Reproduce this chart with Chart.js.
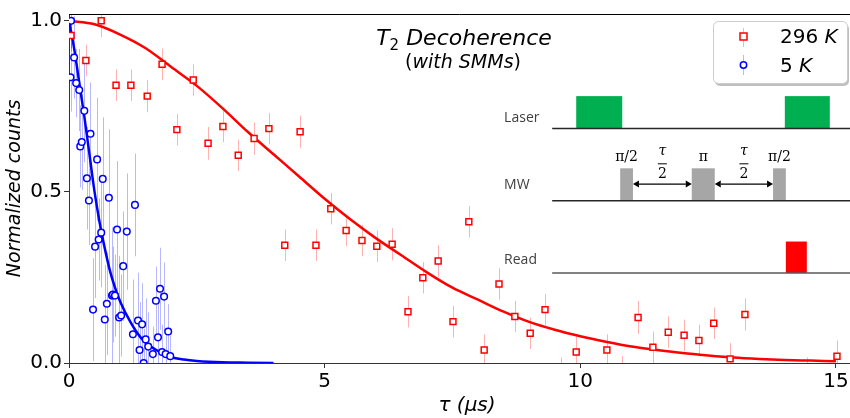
<!DOCTYPE html>
<html>
<head>
<meta charset="utf-8">
<script src="https://cdn.jsdelivr.net/npm/chart.js@4.4.1/dist/chart.umd.min.js"></script>
<style>
  html, body { margin: 0; padding: 0; background: #fff; }
  canvas { display: block; }
</style>
</head>
<body>
<canvas id="t2Chart" width="850" height="418"></canvas>
<script>
// tick labels
const xTickValues = [0, 5, 10, 15];
const yTickValues = [0, 0.5, 1.0];

// 296 K measurements (tau in us, normalized counts, error)
const hotTau = [0.04, 0.33, 0.63, 0.92, 1.21, 1.53, 1.82, 2.11, 2.43, 2.72, 3.01, 3.31, 3.62, 3.91, 4.22, 4.52,
  4.83, 5.12, 5.42, 5.73, 6.02, 6.32, 6.63, 6.92, 7.22, 7.51, 7.82, 8.12, 8.41, 8.72, 9.02, 9.31, 9.62,
  9.92, 10.52, 10.82, 11.13, 11.42, 11.72, 12.03, 12.32, 12.61, 12.93, 13.22, 14.43, 15.02];
const hotCounts = [0.957, 0.884, 1.0, 0.812, 0.812, 0.78, 0.873, 0.682, 0.827, 0.642, 0.691, 0.607, 0.656, 0.685, 0.344, 0.676,
  0.344, 0.451, 0.387, 0.358, 0.341, 0.347, 0.150, 0.249, 0.298, 0.121, 0.413, 0.038, 0.231, 0.136, 0.087, 0.156, -0.03,
  0.032, 0.038, -0.025, 0.133, 0.046, 0.09, 0.081, 0.066, 0.116, 0.012, 0.142, -0.03, 0.02];
const hotErr = [0.046, 0.046, 0.048, 0.046, 0.046, 0.047, 0.046, 0.046, 0.046, 0.048, 0.046, 0.046, 0.047, 0.046, 0.046, 0.047,
  0.046, 0.046, 0.046, 0.046, 0.046, 0.047, 0.046, 0.046, 0.046, 0.046, 0.046, 0.046, 0.046, 0.046, 0.046, 0.046, 0.046,
  0.046, 0.046, 0.046, 0.048, 0.046, 0.046, 0.046, 0.046, 0.046, 0.046, 0.047, 0.046, 0.046];

// 5 K measurements
const coldTau = [0.04, 0.03, 0.1, 0.14, 0.2, 0.3, 0.42, 0.22, 0.25, 0.55, 0.35, 0.66, 0.39, 0.78, 1.29, 0.63, 0.94, 1.13,
  0.58, 0.51, 1.06, 0.84, 0.86, 0.9, 0.74, 0.47, 0.7, 0.98, 1.02, 1.35, 1.43, 1.25, 1.5, 1.55, 1.38, 1.46, 1.64, 1.74,
  1.82, 1.89, 1.98, 1.7, 1.78, 1.86, 1.94];
const coldCounts = [1.0, 0.835, 0.893, 0.818, 0.798, 0.737, 0.67, 0.633, 0.646, 0.595, 0.54, 0.538, 0.475, 0.483, 0.462, 0.381, 0.39, 0.384,
  0.361, 0.34, 0.283, 0.197, 0.2, 0.197, 0.173, 0.156, 0.127, 0.133, 0.139, 0.124, 0.113, 0.084, 0.069, 0.048, 0.038, 0.0, 0.026, 0.075,
  0.032, 0.026, 0.02, 0.182, 0.217, 0.194, 0.092];
const coldErr = [0.08, 0.1, 0.12, 0.1, 0.12, 0.15, 0.15, 0.12, 0.14, 0.18, 0.15, 0.18, 0.13, 0.2, 0.15, 0.16, 0.2, 0.17,
  0.12, 0.15, 0.16, 0.2, 0.14, 0.12, 0.15, 0.15, 0.16, 0.18, 0.12, 0.14, 0.12, 0.16, 0.12, 0.1, 0.14, 0.1, 0.08, 0.1,
  0.08, 0.07, 0.06, 0.1, 0.12, 0.1, 0.08];

// fitted curves
const hotFitTau = [0, 0.5, 1, 1.5, 2, 2.5, 3, 3.5, 4, 4.5, 5, 5.5, 6, 6.5, 7, 7.5, 8, 8.5, 9, 9.5, 10,
  10.5, 11, 11.5, 12, 12.5, 13, 13.5, 14, 14.5, 15];
const hotFitCounts = [1.0, 0.99, 0.96, 0.92, 0.865, 0.81, 0.745, 0.675, 0.61, 0.545, 0.48, 0.42, 0.365, 0.315, 0.265, 0.22, 0.185, 0.15, 0.12, 0.097, 0.078,
  0.062, 0.048, 0.038, 0.029, 0.022, 0.016, 0.012, 0.009, 0.007, 0.005];
const coldFitTau = [0, 0.1, 0.2, 0.3, 0.4, 0.5, 0.6, 0.7, 0.8, 0.9, 1.0, 1.2, 1.4, 1.6, 1.8, 2.0, 2.25, 2.5, 3.0, 3.5, 4.0];
const coldFitCounts = [1.0, 0.92, 0.82, 0.72, 0.61, 0.5, 0.41, 0.335, 0.27, 0.22, 0.18, 0.12, 0.075, 0.048, 0.03, 0.017, 0.01, 0.006, 0.002, 0.001, 0.0];

// pulse sequence inset, placed in axis units
const pulseLayout = {
  labelX: 8.51,
  laserY: 0.685, mwY: 0.474, readY: 0.263,
  lineStart: 9.45,
  laserTop: 0.78, laserPulses: [[9.92, 10.82], [14.0, 14.88]],
  mwTop: 0.569, mwPulses: [[10.78, 11.03], [12.18, 12.63], [13.77, 14.02]],
  arrowY: 0.523,
  readTop: 0.355, readPulse: [14.02, 14.43]
};

const pxPerMicrosecond = 51.13;

const zip = (xs, ys) => xs.map((x, i) => ({ x: x, y: ys[i] }));

function drawParts(ctx, parts, cx, y) {
  let total = 0;
  for (const p of parts) { ctx.font = p.font; total += ctx.measureText(p.text).width; }
  let x = cx - total / 2;
  ctx.textAlign = 'left';
  for (const p of parts) {
    ctx.font = p.font;
    ctx.fillText(p.text, x, y + (p.dy || 0));
    x += ctx.measureText(p.text).width;
  }
}

function arrow(ctx, x1, x2, y) {
  const h = 6, w = 3.5;
  ctx.beginPath();
  ctx.moveTo(x1 + h, y); ctx.lineTo(x2 - h, y); ctx.stroke();
  ctx.beginPath();
  ctx.moveTo(x1, y); ctx.lineTo(x1 + h, y - w); ctx.lineTo(x1 + h, y + w); ctx.closePath(); ctx.fill();
  ctx.beginPath();
  ctx.moveTo(x2, y); ctx.lineTo(x2 - h, y - w); ctx.lineTo(x2 - h, y + w); ctx.closePath(); ctx.fill();
}

// the x scale keeps a fixed pixel size per microsecond, whatever width the layout leaves
const fixedScale = {
  id: 'fixedScale',
  afterLayout(chart) {
    const s = chart.scales.x;
    s.max = s.min + (s.right - s.left) / pxPerMicrosecond;
    s.configure();
  }
};

const errorBars = {
  id: 'errorBars',
  beforeDatasetsDraw(chart) {
    const { ctx, chartArea: a, scales: { x, y } } = chart;
    ctx.save();
    ctx.beginPath();
    ctx.rect(a.left, a.top, chart.width - a.left, a.bottom - a.top);
    ctx.clip();
    ctx.lineWidth = 1;
    const sets = [[hotTau, hotCounts, hotErr, 'rgba(255,0,0,0.3)'], [coldTau, coldCounts, coldErr, 'rgba(0,0,255,0.28)']];
    for (const [ts, cs, es, col] of sets) {
      ctx.strokeStyle = col;
      ts.forEach((t, i) => {
        const px = Math.round(x.getPixelForValue(t)) + 0.5;
        ctx.beginPath();
        ctx.moveTo(px, y.getPixelForValue(cs[i] + es[i]));
        ctx.lineTo(px, y.getPixelForValue(cs[i] - es[i]));
        ctx.stroke();
      });
    }
    ctx.restore();
  }
};

const decorations = {
  id: 'decorations',
  afterDraw(chart) {
    const { ctx, chartArea: a, scales: { x, y } } = chart;
    const L = pulseLayout;
    const W = chart.width;
    ctx.save();

    // top spine, and the bottom one carried to the canvas edge
    ctx.strokeStyle = '#000';
    ctx.lineWidth = 1;
    ctx.beginPath();
    ctx.moveTo(a.left, Math.round(a.top) + 0.5);
    ctx.lineTo(W, Math.round(a.top) + 0.5);
    ctx.stroke();
    ctx.strokeStyle = '#333';
    ctx.beginPath();
    ctx.moveTo(a.right - 1, Math.round(a.bottom) + 0.5);
    ctx.lineTo(W, Math.round(a.bottom) + 0.5);
    ctx.stroke();

    // x axis title
    ctx.fillStyle = '#000';
    ctx.font = 'italic 20px "DejaVu Sans"';
    ctx.textAlign = 'center';
    ctx.textBaseline = 'middle';
    ctx.fillText('\u03c4 (\u03bcs)', 467, 406);

    // title
    ctx.textBaseline = 'alphabetic';
    drawParts(ctx, [
      { text: 'T', font: 'italic 22px "DejaVu Sans"' },
      { text: '2', font: '15px "DejaVu Sans"', dy: 5 },
      { text: ' Decoherence', font: 'italic 22px "DejaVu Sans"' }
    ], 464, 45);
    drawParts(ctx, [
      { text: '(', font: '19px "DejaVu Sans"' },
      { text: 'with SMMs', font: 'italic 19px "DejaVu Sans"' },
      { text: ')', font: '19px "DejaVu Sans"' }
    ], 463, 68);

    // pulse sequence
    const x0 = x.getPixelForValue(L.lineStart);
    ctx.font = '14px "Open Sans"';
    ctx.fillStyle = '#404040';
    ctx.textAlign = 'left';
    ctx.textBaseline = 'middle';
    ctx.fillText('Laser', x.getPixelForValue(L.labelX), y.getPixelForValue(L.laserY) - 11);
    ctx.fillText('MW', x.getPixelForValue(L.labelX), y.getPixelForValue(L.mwY) - 16);
    ctx.fillText('Read', x.getPixelForValue(L.labelX), y.getPixelForValue(L.readY) - 13);

    const box = (t1, t2, top, base, col) => {
      const p1 = x.getPixelForValue(t1), p2 = x.getPixelForValue(t2);
      const pt = y.getPixelForValue(top), pb = y.getPixelForValue(base);
      ctx.fillStyle = col;
      ctx.fillRect(p1, pt, p2 - p1, pb - pt);
    };
    L.laserPulses.forEach(p => box(p[0], p[1], L.laserTop, L.laserY, '#00b050'));
    L.mwPulses.forEach(p => box(p[0], p[1], L.mwTop, L.mwY, '#a6a6a6'));
    box(L.readPulse[0], L.readPulse[1], L.readTop, L.readY, '#ff0000');

    ctx.lineWidth = 1.5;
    [[L.laserY, '#262626'], [L.mwY, '#262626'], [L.readY, '#595959']].forEach(([v, col]) => {
      const py = y.getPixelForValue(v);
      ctx.strokeStyle = col;
      ctx.beginPath();
      ctx.moveTo(x0, py); ctx.lineTo(W, py); ctx.stroke();
    });

    // arrows between MW pulses
    ctx.strokeStyle = '#000';
    ctx.fillStyle = '#000';
    ctx.lineWidth = 1.3;
    const ay = y.getPixelForValue(L.arrowY);
    const mw = L.mwPulses.map(p => [x.getPixelForValue(p[0]), x.getPixelForValue(p[1])]);
    arrow(ctx, mw[0][1], mw[1][0], ay);
    arrow(ctx, mw[1][1], mw[2][0], ay);

    // pulse labels
    const labY = y.getPixelForValue(L.mwTop) - 11;
    ctx.textAlign = 'center';
    ctx.textBaseline = 'middle';
    ctx.fillStyle = '#000';
    ctx.font = '14px "DejaVu Serif"';
    ctx.fillText('\u03c0/2', (mw[0][0] + mw[0][1]) / 2, labY);
    ctx.fillText('\u03c0', (mw[1][0] + mw[1][1]) / 2, labY);
    ctx.fillText('\u03c0/2', (mw[2][0] + mw[2][1]) / 2, labY);
    [(mw[0][1] + mw[1][0]) / 2, (mw[1][1] + mw[2][0]) / 2].forEach(cx => {
      ctx.font = 'italic 14px "DejaVu Serif"';
      ctx.fillText('\u03c4', cx, labY - 6);
      ctx.font = '14px "DejaVu Serif"';
      ctx.fillText('2', cx, labY + 17);
      ctx.lineWidth = 1;
      ctx.beginPath();
      ctx.moveTo(cx - 4.5, labY + 6.5); ctx.lineTo(cx + 4.5, labY + 6.5); ctx.stroke();
    });

    // legend
    const lx = 713, ly = 21, lw = 134, lh = 62;
    ctx.fillStyle = 'rgba(0,0,0,0.25)';
    ctx.beginPath(); ctx.roundRect(lx + 2, ly + 3, lw, lh, 5); ctx.fill();
    ctx.fillStyle = '#fff';
    ctx.strokeStyle = '#cccccc';
    ctx.lineWidth = 1;
    ctx.beginPath(); ctx.roundRect(lx + 0.5, ly + 0.5, lw, lh, 5); ctx.fill(); ctx.stroke();

    const mx = 743;
    ctx.lineWidth = 1;
    ctx.strokeStyle = 'rgba(255,0,0,0.3)';
    ctx.beginPath(); ctx.moveTo(mx + 0.5, 28); ctx.lineTo(mx + 0.5, 47); ctx.stroke();
    ctx.strokeStyle = 'rgba(0,0,255,0.28)';
    ctx.beginPath(); ctx.moveTo(mx + 0.5, 55); ctx.lineTo(mx + 0.5, 75); ctx.stroke();
    ctx.lineWidth = 1.5;
    ctx.fillStyle = '#fff';
    ctx.strokeStyle = '#ff0000';
    ctx.fillRect(mx - 3, 33, 7, 7); ctx.strokeRect(mx - 3, 33, 7, 7);
    ctx.strokeStyle = '#0000ff';
    ctx.beginPath(); ctx.arc(mx + 0.5, 65, 3.2, 0, Math.PI * 2); ctx.fill(); ctx.stroke();

    ctx.fillStyle = '#000';
    ctx.textAlign = 'left';
    ctx.textBaseline = 'alphabetic';
    const legendText = (num, ty) => {
      ctx.font = '20px "DejaVu Sans"';
      ctx.fillText(num + ' ', 780, ty);
      const w = ctx.measureText(num + ' ').width;
      ctx.font = 'italic 20px "DejaVu Sans"';
      ctx.fillText('K', 780 + w, ty);
    };
    legendText('296', 43);
    legendText('5', 72);

    ctx.restore();
  }
};

const tickFont = { family: 'DejaVu Sans', size: 20 };

new Chart(document.getElementById('t2Chart'), {
  type: 'scatter',
  data: {
    datasets: [
      {
        label: '296 K', data: zip(hotTau, hotCounts), pointStyle: 'rect', pointRadius: 4.2,
        borderColor: '#ff0000', backgroundColor: '#ffffff', borderWidth: 1.5, clip: 0, order: 0
      },
      {
        label: '5 K', data: zip(coldTau, coldCounts), pointStyle: 'circle', pointRadius: 3.3,
        borderColor: '#0000ff', backgroundColor: '#ffffff', borderWidth: 1.5, clip: 0, order: 0
      },
      {
        label: '296 K fit', data: zip(hotFitTau, hotFitCounts), showLine: true, pointRadius: 0,
        borderColor: '#ff0000', borderWidth: 2.5, cubicInterpolationMode: 'monotone', order: 1
      },
      {
        label: '5 K fit', data: zip(coldFitTau, coldFitCounts), showLine: true, pointRadius: 0,
        borderColor: '#0000ff', borderWidth: 2.5, cubicInterpolationMode: 'monotone', order: 1
      }
    ]
  },
  options: {
    responsive: false,
    animation: false,
    events: [],
    layout: { padding: { top: 10, right: 0, left: 0, bottom: 0 } },
    plugins: { legend: { display: false }, tooltip: { enabled: false } },
    scales: {
      x: {
        type: 'linear', min: 0, max: 15.27,
        afterBuildTicks: s => { s.ticks = xTickValues.map(v => ({ value: v })); },
        afterFit: s => { s.height = 55; },
        border: { display: true, color: '#333', width: 1 },
        grid: { display: true, drawOnChartArea: false, drawTicks: true, tickLength: 5, color: '#333' },
        ticks: { font: tickFont, color: '#000', padding: 2, maxRotation: 0, callback: v => String(v) }
      },
      y: {
        type: 'linear', min: 0, max: 1.02,
        afterBuildTicks: s => { s.ticks = yTickValues.map(v => ({ value: v })); },
        afterFit: s => { s.width = 69; },
        border: { display: true, color: '#333', width: 1 },
        grid: { display: true, drawOnChartArea: false, drawTicks: true, tickLength: 5, color: '#333' },
        ticks: { font: tickFont, color: '#000', padding: 2, callback: v => v.toFixed(1) },
        title: {
          display: true, text: 'Normalized counts', color: '#000',
          font: { family: 'DejaVu Sans', size: 19, style: 'italic', lineHeight: 1 },
          padding: { top: 6, bottom: 0 }
        }
      }
    }
  },
  plugins: [fixedScale, errorBars, decorations]
});
</script>
</body>
</html>
